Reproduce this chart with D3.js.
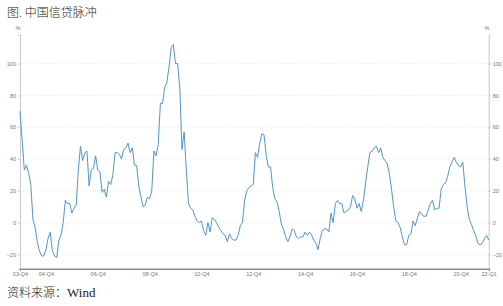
<!DOCTYPE html>
<html>
<head>
<meta charset="utf-8">
<script src="https://cdn.jsdelivr.net/npm/d3@7"></script>
<style>
  body { margin: 0; background: #fff; }
  svg { display: block; }
  .tick-label { font-family: 'Liberation Sans', Arial, sans-serif; font-size: 5.5px; fill: #777; }
</style>
</head>
<body>
<svg width="503" height="306"></svg>
<script>
// monthly credit impulse, %
var pulse = [
  70, 52, 33, 36, 31, 24, 2, -3, -12, -18, -21, -21, -17, -10, -6, -18, -21, -22, -11, -8,
  0, 14, 12, 12, 6, 9, 11, 33, 48, 39, 44, 45, 23, 33, 34, 42, 33, 32, 19, 21,
  16, 26, 24, 30, 44, 44, 43, 40, 46, 47, 50, 44, 47, 36, 36, 23, 16, 10, 11, 16,
  15, 20, 45, 42, 49, 75, 75, 85, 88, 98, 110, 112, 100, 100, 84, 46, 57, 33, 12, 9,
  8, 4, 1, 0, 1, -5, -8, 0, -6, 3, 2, 0, -3, -5, -7, -8, -12, -7, -10, -11,
  -11, -8, -2, 0, 14, 20, 22, 23, 24, 44, 41, 50, 56, 55, 42, 35, 35, 22, 15, 13,
  7, -1, -4, -9, -12, -9, -4, -5, -9, -10, -9, -9, -6, -8, -6, -8, -11, -13, -17, -10,
  -5, -4, -4, -6, 6, 0, 12, 14, 12, 12, 6, 7, 8, 10, 17, 15, 9, 12, 7, 14,
  25, 35, 44, 45, 47, 48, 44, 47, 41, 39, 37, 31, 21, 10, 1, 0, -3, -9, -14, -14,
  -8, -7, 1, -2, 3, 7, 5, 4, 4, 8, 12, 14, 8, 9, 9, 21, 24, 25, 29, 35,
  38, 41, 38, 36, 35, 38, 23, 10, 2, -1, -5, -8, -13, -14, -13, -10, -8, -11
]
var xTickIndex = [0, 12, 36, 60, 84, 108, 132, 156, 180, 204, 217]
var xTickLabels = ['03-Q4', '04-Q4', '06-Q4', '08-Q4', '10-Q4', '12-Q4', '14-Q4', '16-Q4', '18-Q4', '20-Q4', '22-Q1']
var yTicks = [-20, 0, 20, 40, 60, 80, 100]

var svg = d3.select('svg')

// plot box (note: "top" is taken by window.top)
var plotLeft = 20
var plotRight = 488.7
var plotTop = 35
var plotBottom = 268.7

var x = d3.scaleLinear()
  .domain([0, pulse.length - 1])
  .range([plotLeft, plotRight])

var y = d3.scaleLinear()
  .domain([-29, 118])
  .range([plotBottom, plotTop])

// ===== title and source =====
svg.append('text')
  .attr('x', 7)
  .attr('y', 17)
  .attr('font-family', "'Noto Sans CJK SC', sans-serif")
  .attr('font-size', '12px')
  .attr('font-weight', 300)
  .attr('fill', '#222')
  .text('图. 中国信贷脉冲')

svg.append('text')
  .attr('x', 7)
  .attr('y', 297)
  .attr('font-size', '12px')
  .attr('fill', '#222')
  .call(function (t) {
    t.append('tspan').attr('font-family', "'Noto Sans CJK SC', sans-serif").attr('font-weight', 300).text('资料来源：')
    t.append('tspan').attr('font-family', "'Liberation Serif', serif").attr('font-size', '13px').text('Wind')
  })

// ===== grid =====
svg.append('g')
  .selectAll('line')
  .data(yTicks)
  .enter()
  .append('line')
  .attr('x1', plotLeft)
  .attr('x2', plotRight)
  .attr('y1', function (d) { return y(d) })
  .attr('y2', function (d) { return y(d) })
  .attr('stroke', '#e4e4e4')
  .attr('stroke-width', 0.8)
  .attr('stroke-dasharray', '1,1.5')

// ===== y axes (left and right) =====
var yLeft = svg.append('g')
  .attr('transform', 'translate(' + plotLeft + ',0)')
  .call(d3.axisLeft(y).tickValues(yTicks).tickSize(2).tickPadding(2))
var yRight = svg.append('g')
  .attr('transform', 'translate(' + plotRight + ',0)')
  .call(d3.axisRight(y).tickValues(yTicks).tickSize(2).tickPadding(2))

;[yLeft, yRight].forEach(function (g) {
  g.select('.domain').attr('stroke', '#c8c8c8').attr('stroke-width', 1)
  g.selectAll('.tick line').attr('stroke', '#aaa').attr('stroke-width', 0.6)
  g.selectAll('.tick text').attr('class', 'tick-label')
  g.attr('font-family', null).attr('font-size', null)
})

svg.append('text').attr('class', 'tick-label').attr('x', 18).attr('y', 30).attr('text-anchor', 'middle').text('%')
svg.append('text').attr('class', 'tick-label').attr('x', 487).attr('y', 30).attr('text-anchor', 'middle').text('%')

// ===== x axis =====
var xAxis = svg.append('g')
  .attr('transform', 'translate(0,' + plotBottom + ')')
  .call(d3.axisBottom(x)
    .tickValues(xTickIndex)
    .tickFormat(function (d, i) { return xTickLabels[i] })
    .tickSize(2)
    .tickPadding(1.5))
xAxis.attr('font-family', null).attr('font-size', null)
xAxis.select('.domain').attr('stroke', '#8a8a8a').attr('stroke-width', 1.6)
xAxis.selectAll('.tick line').attr('stroke', '#999').attr('stroke-width', 0.6)
xAxis.selectAll('.tick text').attr('class', 'tick-label')

// ===== line =====
var line = d3.line()
  .x(function (d, i) { return x(i) })
  .y(function (d) { return y(d) })

svg.append('path')
  .datum(pulse)
  .attr('fill', 'none')
  .attr('stroke', '#5297c4')
  .attr('stroke-width', 1)
  .attr('stroke-linejoin', 'round')
  .attr('d', line)
</script>
</body>
</html>
